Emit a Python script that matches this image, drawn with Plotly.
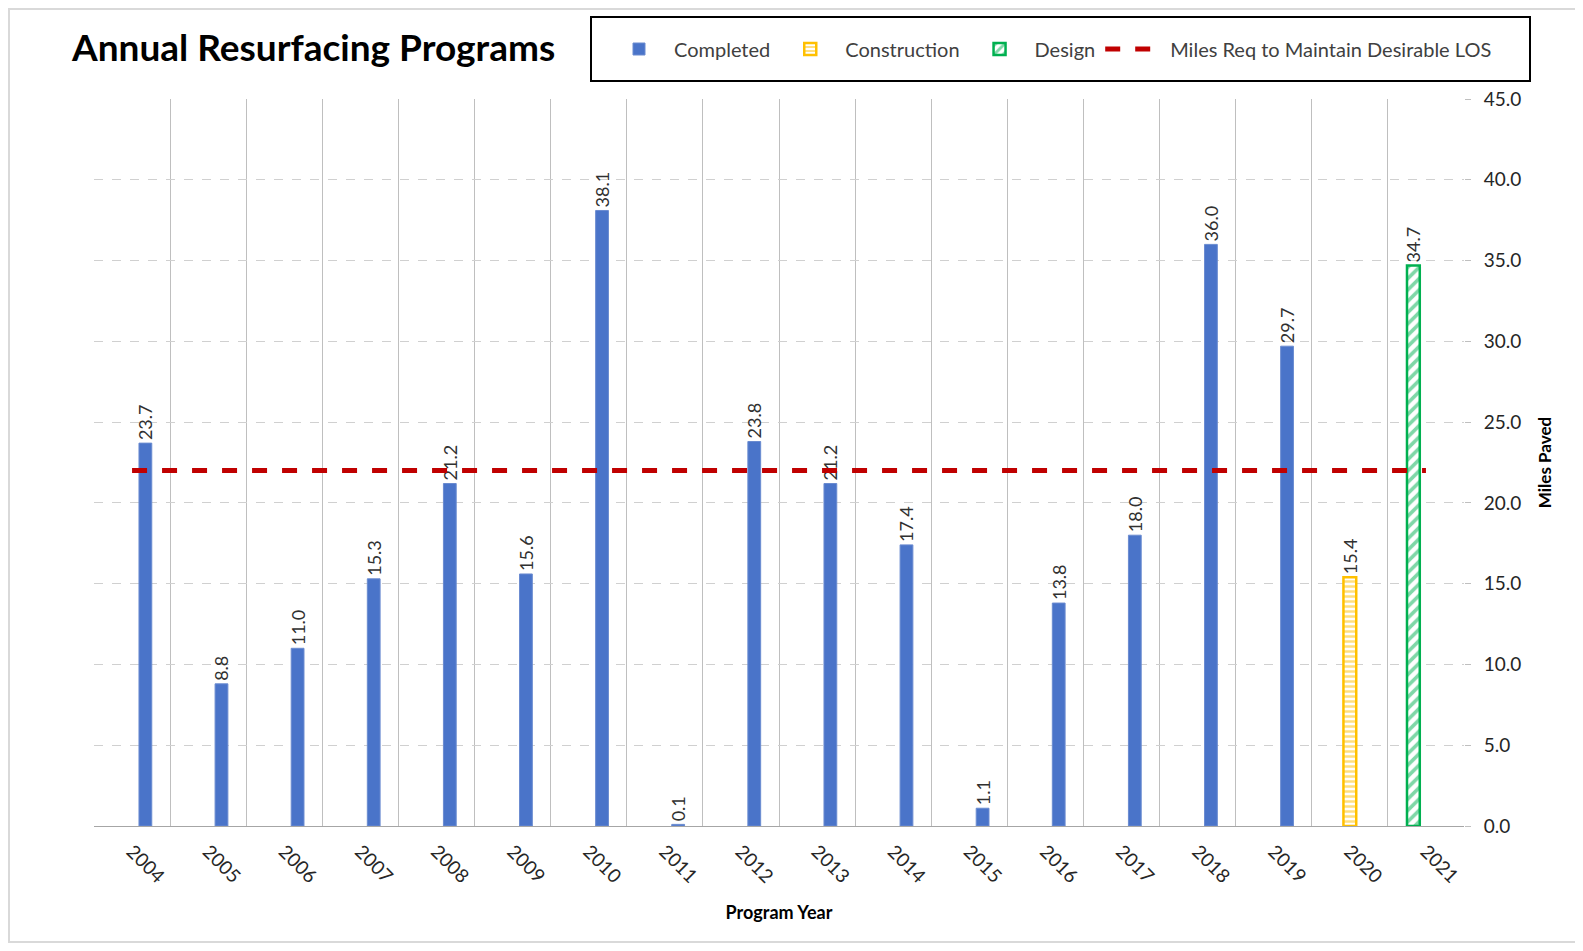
import plotly.graph_objects as go

years = [str(y) for y in range(2004, 2022)]
completed_years = years[:16]
completed_vals = [23.7, 8.8, 11.0, 15.3, 21.2, 15.6, 38.1, 0.1, 23.8, 21.2, 17.4, 1.1, 13.8, 18.0, 36.0, 29.7]
construction_years = ["2020"]
construction_vals = [15.4]
design_years = ["2021"]
design_vals = [34.7]
target_miles = 22.0
yticks = [0, 5, 10, 15, 20, 25, 30, 35, 40, 45]

FONT = "Lato"
label_font = dict(family=FONT, size=18, color="#303030")
BW = 0.168  # bar width in category units

fig = go.Figure()
fig.add_trace(go.Bar(
    name="Completed", x=completed_years, y=completed_vals, width=BW, offset=0.175 - BW / 2,
    marker=dict(color="#4A74C9", line=dict(color="#6A8BD0", width=1)),
    texttemplate="%{y:.1f}", textposition="outside", textangle=-90, textfont=label_font,
    constraintext="none", cliponaxis=False))
fig.add_trace(go.Bar(
    name="Construction", x=construction_years, y=construction_vals, width=BW, offset=-BW / 2,
    marker=dict(color="white", line=dict(color="#FFC000", width=2.5),
                pattern=dict(shape="-", fgcolor="#FFC000", bgcolor="white", size=5, solidity=0.5)),
    texttemplate="%{y:.1f}", textposition="outside", textangle=-90, textfont=label_font,
    constraintext="none", cliponaxis=False))
fig.add_trace(go.Bar(
    name="Design", x=design_years, y=design_vals, width=BW, offset=-0.165 - BW / 2,
    marker=dict(color="white", line=dict(color="#00B050", width=2.5),
                pattern=dict(shape="/", fgcolor="#00B050", bgcolor="white", size=8, solidity=0.45)),
    texttemplate="%{y:.1f}", textposition="outside", textangle=-90, textfont=label_font,
    constraintext="none", cliponaxis=False))
fig.add_trace(go.Scatter(
    name="Miles Req to Maintain Desirable LOS", x=years, y=[target_miles] * len(years),
    mode="lines", line=dict(color="#C00000", width=5, dash="dash")))

fig.update_layout(
    width=1567, height=935,
    paper_bgcolor="white", plot_bgcolor="white",
    font=dict(family=FONT, size=18, color="#262626"),
    barmode="overlay",
    margin=dict(l=86, r=111, t=91, b=117),
    title=dict(text="<b>Annual Resurfacing Programs</b>", x=64 / 1567, xref="container", xanchor="left",
               y=1 - 40 / 935, yref="container", yanchor="middle",
               font=dict(family=FONT, size=37, color="black")),
    legend=dict(orientation="h", x=(604 - 94) / 1370, xanchor="left", y=1 + (99 - 49) / 727, yanchor="middle",
                borderwidth=0, bgcolor="rgba(0,0,0,0)", font=dict(family=FONT, size=20, color="#404040"),
                traceorder="normal", itemwidth=60),
    showlegend=True,
)
fig.update_xaxes(
    type="category", categoryorder="array", categoryarray=years, range=[-0.5, 17.5],
    tickson="boundaries", showgrid=True, gridcolor="#BFBFBF", gridwidth=1,
    showline=True, linecolor="#A6A6A6", linewidth=1, ticks="", tickangle=45, ticklabelstandoff=6,
    tickfont=dict(family=FONT, size=19, color="#262626"),
    title=dict(text="<b>Program Year</b>", font=dict(family=FONT, size=18, color="black"), standoff=20),
)
fig.update_yaxes(
    side="right", range=[0, 45], tickvals=yticks, tickformat=".1f",
    showgrid=True, gridcolor="#D0D0D0", griddash="dash", gridwidth=1,
    zeroline=False, ticks="outside", ticklen=6, tickcolor="#BFBFBF", ticklabelstandoff=9,
    tickfont=dict(family=FONT, size=19, color="#262626"),
    title=dict(text="<b>Miles Paved</b>", font=dict(family=FONT, size=17, color="black"), standoff=18),
)
# outer chart border
fig.add_shape(type="rect", xref="paper", yref="paper",
              x0=(9 - 94) / 1370, x1=(1580 - 94) / 1370,
              y0=(826 - 942) / 727, y1=(826 - 9) / 727,
              line=dict(color="#D9D9D9", width=2), layer="below")
# legend box
fig.add_shape(type="rect", xref="paper", yref="paper",
              x0=(591 - 94) / 1370, x1=(1530 - 94) / 1370,
              y0=(826 - 81) / 727, y1=(826 - 17) / 727,
              line=dict(color="black", width=2), layer="above")

fig.write_html("out.html")
